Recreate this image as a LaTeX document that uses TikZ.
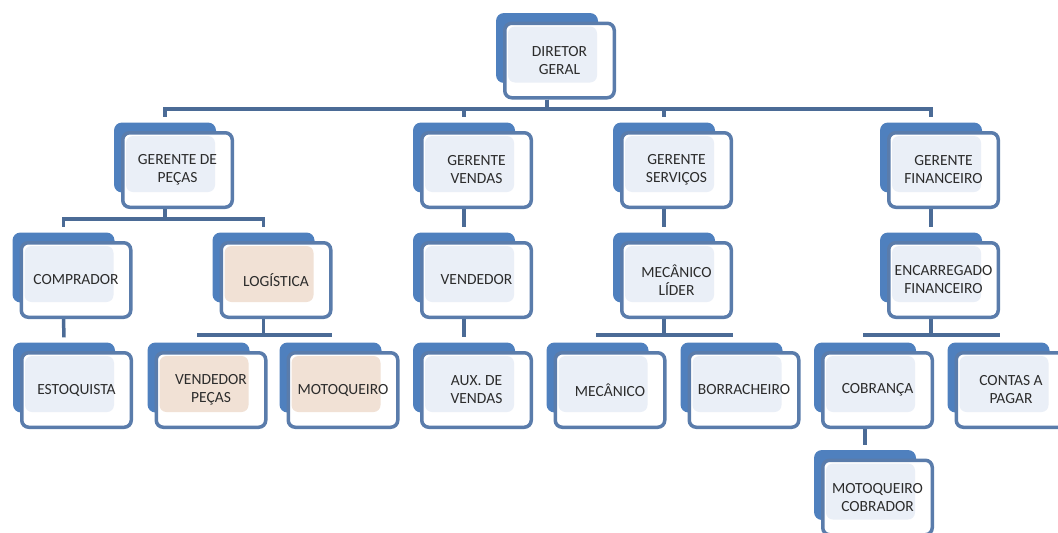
\documentclass[tikz,border=0pt]{standalone}
\usepackage{fontspec}
\setmainfont{Carlito}
\usetikzlibrary{backgrounds}
\definecolor{backblue}{HTML}{4F80BE}
\definecolor{frameblue}{HTML}{5A7CAB}
\definecolor{linkblue}{HTML}{4B6B96}
\definecolor{paleblue}{HTML}{EAEFF7}
\definecolor{palepeach}{HTML}{F1E1D5}
\definecolor{textgray}{HTML}{2C2C2C}
\begin{document}
\begin{tikzpicture}[x=1pt,y=-1pt,
  back/.style={fill=backblue, rounded corners=8pt, minimum width=102pt, minimum height=70pt, inner sep=0pt},
  box/.style={draw=frameblue, line width=3.5pt, fill=white, rounded corners=7pt,
    minimum width=109.5pt, minimum height=74.5pt, inner sep=0pt, align=center,
    font=\fontsize{15.5}{18}\selectfont, text=textgray,
    path picture={\fill[#1] ([shift={(3.25,3.25)}]path picture bounding box.north west)
      rectangle ([shift={(-17.25,-15.25)}]path picture bounding box.south east);}},
  box/.default=paleblue,
  link/.style={draw=linkblue, line width=3.5pt}]
\useasboundingbox (0,0) rectangle (1058,533);
\clip (0,0) rectangle (1058,533);
\coordinate (bus0) at (0,109);
\coordinate (bus1) at (0,219);
\coordinate (bus2) at (0,335);
% director
\node[back] (dg-b) at (547,48) {};
\node[box] (dg) at ([shift={(12.5,12.5)}]dg-b) {DIRETOR\\GERAL};
% gerentes
\node[back] (gp-b) at (165,157.5) {};
\node[box] (gp) at ([shift={(12.5,12.5)}]gp-b) {GERENTE DE\\PEÇAS};
\node[back] (gv-b) at (464,157.5) {};
\node[box] (gv) at ([shift={(12.5,12.5)}]gv-b) {GERENTE\\VENDAS};
\node[back] (gs-b) at (664,157.5) {};
\node[box] (gs) at ([shift={(12.5,12.5)}]gs-b) {GERENTE\\SERVIÇOS};
\node[back] (gf-b) at (931,157.5) {};
\node[box] (gf) at ([shift={(12.5,12.5)}]gf-b) {GERENTE\\FINANCEIRO};
% third row
\node[back] (comp-b) at (63.5,267.5) {};
\node[box] (comp) at ([shift={(12.5,12.5)}]comp-b) {COMPRADOR};
\node[back] (log-b) at (263.5,267.5) {};
\node[box=palepeach] (log) at ([shift={(12.5,12.5)}]log-b) {LOGÍSTICA};
\node[back] (vend-b) at (464,267.5) {};
\node[box] (vend) at ([shift={(12.5,12.5)}]vend-b) {VENDEDOR};
\node[back] (mecl-b) at (664,267.5) {};
\node[box] (mecl) at ([shift={(12.5,12.5)}]mecl-b) {MECÂNICO\\LÍDER};
\node[back] (enc-b) at (931,267.5) {};
\node[box] (enc) at ([shift={(12.5,12.5)}]enc-b) {ENCARREGADO\\FINANCEIRO};
% fourth row
\node[back] (est-b) at (64,377.5) {};
\node[box] (est) at ([shift={(12.5,12.5)}]est-b) {ESTOQUISTA};
\node[back] (vp-b) at (198.5,377.5) {};
\node[box=palepeach] (vp) at ([shift={(12.5,12.5)}]vp-b) {VENDEDOR\\PEÇAS};
\node[back] (moto-b) at (330.5,377.5) {};
\node[box=palepeach] (moto) at ([shift={(12.5,12.5)}]moto-b) {MOTOQUEIRO};
\node[back] (aux-b) at (464,377.5) {};
\node[box] (aux) at ([shift={(12.5,12.5)}]aux-b) {AUX. DE\\VENDAS};
\node[back] (mec-b) at (597.5,377.5) {};
\node[box] (mec) at ([shift={(12.5,12.5)}]mec-b) {MECÂNICO};
\node[back] (borr-b) at (731.5,377.5) {};
\node[box] (borr) at ([shift={(12.5,12.5)}]borr-b) {BORRACHEIRO};
\node[back] (cob-b) at (865,377.5) {};
\node[box] (cob) at ([shift={(12.5,12.5)}]cob-b) {COBRANÇA};
\node[back] (cont-b) at (998.5,377.5) {};
\node[box] (cont) at ([shift={(12.5,12.5)}]cont-b) {CONTAS A\\PAGAR};
% last row
\node[back] (motc-b) at (865,485) {};
\node[box] (motc) at ([shift={(12.5,12.5)}]motc-b) {MOTOQUEIRO\\COBRADOR};
% connectors
\begin{scope}[on background layer]
\draw[link] (dg-b |- dg.south) |- (bus0 -| gp-b) -- ([yshift=5pt]gp-b.north);
\draw[link] (dg-b |- dg.south) |- (bus0 -| gv-b) -- ([yshift=5pt]gv-b.north);
\draw[link] (dg-b |- dg.south) |- (bus0 -| gs-b) -- ([yshift=5pt]gs-b.north);
\draw[link] (dg-b |- dg.south) |- (bus0 -| gf-b) -- ([yshift=5pt]gf-b.north);
\draw[link] (gp-b |- gp.south) |- (bus1 -| comp-b) -- ([yshift=5pt]comp-b.north);
\draw[link] (gp-b |- gp.south) |- (bus1 -| log-b) -- ([yshift=5pt]log-b.north);
\draw[link] (gv-b |- gv.south) -- ([yshift=5pt]vend-b.north);
\draw[link] (gs-b |- gs.south) -- ([yshift=5pt]mecl-b.north);
\draw[link] (gf-b |- gf.south) -- ([yshift=5pt]enc-b.north);
\draw[link] (comp-b |- comp.south) -- ([yshift=5pt]est-b.north);
\draw[link] (log-b |- log.south) |- (bus2 -| vp-b) -- ([yshift=5pt]vp-b.north);
\draw[link] (log-b |- log.south) |- (bus2 -| moto-b) -- ([yshift=5pt]moto-b.north);
\draw[link] (vend-b |- vend.south) -- ([yshift=5pt]aux-b.north);
\draw[link] (mecl-b |- mecl.south) |- (bus2 -| mec-b) -- ([yshift=5pt]mec-b.north);
\draw[link] (mecl-b |- mecl.south) |- (bus2 -| borr-b) -- ([yshift=5pt]borr-b.north);
\draw[link] (enc-b |- enc.south) |- (bus2 -| cob-b) -- ([yshift=5pt]cob-b.north);
\draw[link] (enc-b |- enc.south) |- (bus2 -| cont-b) -- ([yshift=5pt]cont-b.north);
\draw[link] (cob-b |- cob.south) -- ([yshift=5pt]motc-b.north);
\end{scope}
\end{tikzpicture}
\end{document}
